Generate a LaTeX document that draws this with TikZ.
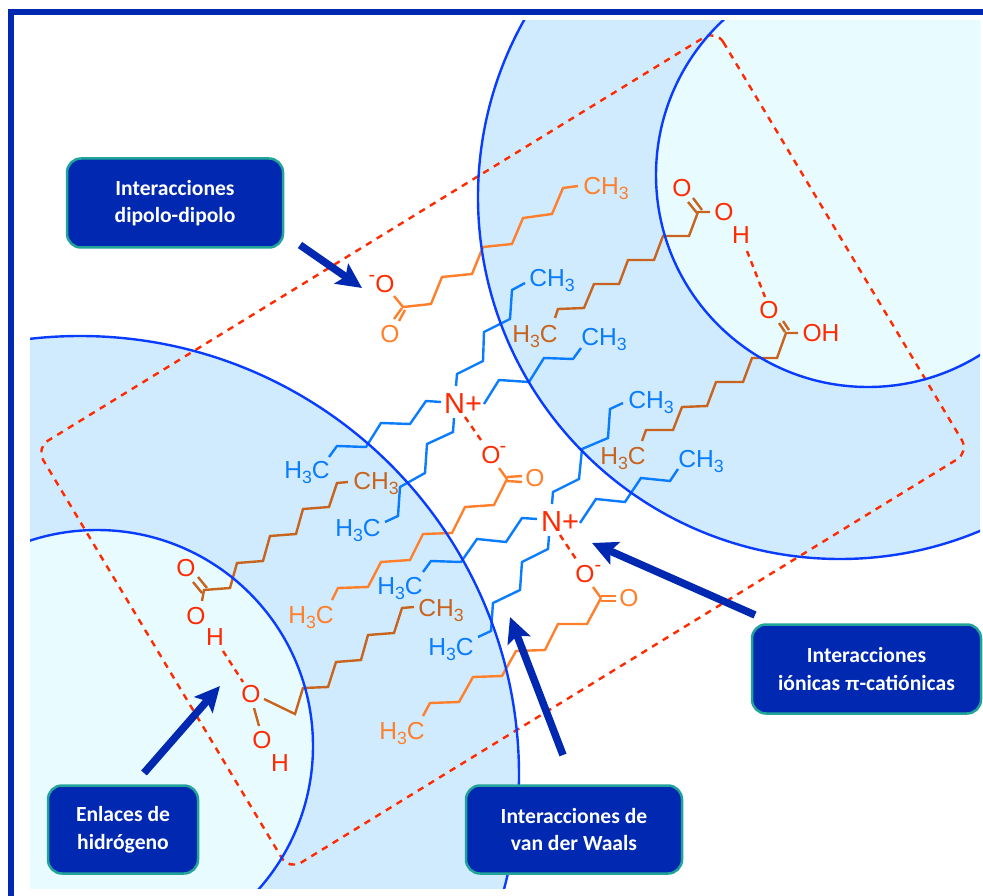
\documentclass[tikz,border=0pt]{standalone}
\usepackage{fontspec}
\usepackage{graphicx}
\setmainfont{Liberation Sans}
\newfontfamily\boxfont[BoldFont={Carlito Bold}]{Carlito}
\usetikzlibrary{arrows.meta}
\definecolor{navy}{HTML}{0028B0}
\definecolor{teal2}{HTML}{22A39A}
\definecolor{ringblue}{HTML}{0A3CFF}
\definecolor{fillmid}{HTML}{D0EBFE}
\definecolor{fillin}{HTML}{E8FBFF}
\definecolor{chblue}{HTML}{0A7CFF}
\definecolor{chorange}{HTML}{FF7F2A}
\definecolor{chdark}{HTML}{C8641E}
\definecolor{chred}{HTML}{FF2A00}
\newcommand\sbs{\raisebox{-.2em}{\scalebox{.72}{3}}}
\newcommand\CHt{CH\sbs}
\newcommand\HtC{H\sbs C}
\newcommand\piup{{\fontspec{Liberation Sans}\bfseries\fontsize{19}{27.5}\selectfont π}}
\tikzset{
  mol/.style={inner sep=0pt,outer sep=0pt,anchor=center,text height=17.5pt,text depth=0pt,font=\fontsize{24.6}{24.6}\selectfont},
  molblue/.style={mol,text=chblue},
  molorange/.style={mol,text=chorange},
  moldark/.style={mol,text=chdark},
  molred/.style={mol,text=chred},
  chargeN/.style={molred,text height=21pt,font=\fontsize{29}{29}\selectfont},
  minus/.style={inner sep=0pt,text=chred,font=\fontsize{20}{20}\selectfont},
  bondblue/.style={draw=chblue,line width=2.4pt},
  bondorange/.style={draw=chorange,line width=2.4pt},
  bonddark/.style={draw=chdark,line width=2.4pt},
  hbond/.style={draw=chred,line width=2.4pt,dash pattern=on 6.5pt off 6pt},
  ring/.style={draw=ringblue,line width=2.4pt},
  callout/.style={draw=teal2,fill=navy,line width=2.5pt,rounded corners=14pt,text=white,align=center,
     inner sep=0pt,font=\boxfont\bfseries\fontsize{21.6}{27.5}\selectfont},
  pointer/.style={draw=navy,line width=7.5pt,-{Stealth[length=25pt,width=24pt,inset=5pt,fill=navy]}},
}
\begin{document}
\begin{tikzpicture}[x=1pt,y=-1pt]
\useasboundingbox (0,0) rectangle (983,896);
\fill[white] (0,0) rectangle (983,896);
% frame
\fill[navy] (8,9) rectangle (983,15);
\fill[navy] (8,9) rectangle (14,896);
% filled circles
\begin{scope}
  \clip (30,21) rectangle (980,888);
  \fill[fillmid] (840,197) circle[radius=362];
  \fill[fillin] (868,175) circle[radius=212];
  \fill[fillmid] (80,775) circle[radius=439];
  \fill[fillin] (97,746) circle[radius=216];
\end{scope}
% dashed rectangle
\draw[hbond,rounded corners=14pt] (716,30) -- (969,452) -- (289,870) -- (36,448) -- cycle;
% upper N+ chains
\draw[bondblue] (456,386) -- (457,374) -- (483,361) -- (484,332) -- (510,319) -- (512,290) -- (525,283);
\draw[bondblue] (484,404) -- (499,380) -- (529,382) -- (544,358) -- (573,359) -- (581,348);
\draw[bondblue] (441,402) -- (426,401) -- (410,424) -- (381,423) -- (366,447) -- (337,446) -- (329,457);
\draw[bondblue] (454,418) -- (453,432) -- (427,444) -- (425,473) -- (400,487) -- (398,516) -- (385,522);
% lower N+ chains
\draw[bondblue] (552,504) -- (553,492) -- (579,479) -- (582,449) -- (608,438) -- (610,409) -- (623,403);
\draw[bondblue] (580,523) -- (596,499) -- (625,502) -- (641,478) -- (670,481) -- (678,469);
\draw[bondblue] (537,519) -- (522,518) -- (506,542) -- (477,539) -- (461,562) -- (431,561) -- (423,572);
\draw[bondblue] (549,536) -- (548,549) -- (522,562) -- (520,590) -- (493,603) -- (491,631) -- (478,637);
% orange chains
\draw[bondorange] (578,186) -- (563,188) -- (552,214) -- (523,218) -- (512,244) -- (483,247) -- (472,274) -- (442,277) -- (431,304) -- (403,307) -- (394,296);
\draw[bondorange] (402,308) -- (394,319) (405,310) -- (399,321);
\draw[bondorange] (507,479) -- (494,505) -- (465,507) -- (452,533) -- (423,534) -- (410,560) -- (381,562) -- (368,587) -- (338,588) -- (332,600);
\draw[bondorange] (499,468) -- (507,479);
\draw[bondorange] (507,477) -- (522,476) (507,481) -- (522,482);
\draw[bondorange] (601,598) -- (587,624) -- (558,624) -- (545,650) -- (516,651) -- (502,676) -- (473,677) -- (459,702) -- (430,703) -- (423,716);
\draw[bondorange] (593,587) -- (601,598);
\draw[bondorange] (601,596) -- (616,596) (601,601) -- (616,601);
% dark chains
\draw[bonddark] (555,318) -- (558,309) -- (584,308) -- (594,284) -- (619,284) -- (628,260) -- (654,260) -- (663,236) -- (689,236) -- (698,212) -- (710,212);
\draw[bonddark] (693,198) -- (702,210) (688,202) -- (697,213);
\draw[bonddark] (642,441) -- (646,430) -- (673,430) -- (682,407) -- (707,406) -- (716,382) -- (743,382) -- (752,358) -- (777,358) -- (786,333) -- (798,333);
\draw[bonddark] (779,323) -- (785,332) (783,321) -- (789,330);
\draw[bonddark] (348,482) -- (337,483) -- (329,507) -- (303,509) -- (296,534) -- (270,536) -- (263,561) -- (237,563) -- (230,588) -- (204,590) -- (202,601);
\draw[bonddark] (198,577) -- (207,588) (193,582) -- (202,593);
\draw[bonddark] (264,699) -- (295,714) -- (303,688) -- (328,687) -- (336,662) -- (361,660) -- (368,635) -- (394,633) -- (402,608) -- (414,607);
\draw[bonddark] (254,708) -- (259,726);
% hydrogen and ionic bonds
\draw[hbond,dash pattern=on 6pt off 5pt] (465,417) -- (483,443);
\draw[hbond,dash pattern=on 6pt off 5pt] (560,535) -- (578,562);
\draw[hbond,dash pattern=on 6pt off 5pt] (747,251) -- (765,297);
\draw[hbond,dash pattern=on 6pt off 5pt] (223,651) -- (243,682);
% rings
\begin{scope}
  \clip (30,21) rectangle (980,888);
  \draw[ring] (840,197) circle[radius=362];
  \draw[ring] (868,175) circle[radius=212];
  \draw[ring] (80,775) circle[radius=439];
  \draw[ring] (97,746) circle[radius=216];
\end{scope}
% blue labels
\node[molblue] (c1) at (552,278) {\CHt};
\node[molblue] (c2) at (604,337) {\CHt};
\node[molblue] (c3) at (651,400) {\CHt};
\node[molblue] (c4) at (701,459) {\CHt};
\node[molblue] (c5) at (307,470) {\HtC};
\node[molblue] (c6) at (358,528) {\HtC};
\node[molblue] (c7) at (400,586) {\HtC};
\node[molblue] (c8) at (451,647) {\HtC};
% orange labels
\node[molorange] (c9) at (606,186) {\CHt};
\node[molorange] (c10) at (311,615) {\HtC};
\node[molorange] (c11) at (402,731) {\HtC};
\node[molorange] (o1) at (390,334) {O};
\node[molorange] (o2) at (535,478) {O};
\node[molorange] (o3) at (629,598) {O};
% dark labels
\node[moldark] (c12) at (535,334) {\HtC};
\node[moldark] (c13) at (623,456) {\HtC};
\node[moldark] (c14) at (376,481) {\CHt};
\node[moldark] (c15) at (441,608) {\CHt};
% red labels
\node[chargeN] (n1) at (463,403) {N+};
\node[chargeN] (n2) at (560,521) {N+};
\node[molred] (o4) at (385,284) {O};
\node[minus] (m1) at (372,278) {-};
\node[molred] (o5) at (491,455) {O};
\node[minus] (m2) at (503,449) {-};
\node[molred] (o6) at (585,574) {O};
\node[minus] (m3) at (598,568) {-};
\node[molred] (o7) at (682,188) {O};
\node[molred] (o8) at (724,212) {O};
\node[molred] (h1) at (741,235) {H};
\node[molred] (o9) at (769,310) {O};
\node[molred] (oh) at (821,333) {OH};
\node[molred] (o10) at (186,568) {O};
\node[molred] (o11) at (196,616) {O};
\node[molred] (h2) at (215,637) {H};
\node[molred] (o12) at (251,694) {O};
\node[molred] (o13) at (262,740) {O};
\node[molred] (h3) at (280,763) {H};
% callouts
\node[callout,minimum width=216pt,minimum height=89pt] (dip) at (175,203) {Interacciones\\dipolo-dipolo};
\node[callout,minimum width=229pt,minimum height=89pt] (ion) at (866.5,669) {Interacciones\\iónicas \piup-catiónicas};
\node[callout,minimum width=216pt,minimum height=88pt] (vdw) at (574,829.5) {Interacciones de\\van der Waals};
\node[callout,minimum width=150pt,minimum height=88pt] (enl) at (123,829.5) {Enlaces de\\hidrógeno};
% pointers
\coordinate (p1a) at (300,245); \coordinate (p1b) at (362,288);
\coordinate (p2a) at (755,615); \coordinate (p2b) at (592,543);
\coordinate (p3a) at (563,755); \coordinate (p3b) at (510,617);
\coordinate (p4a) at (144,773); \coordinate (p4b) at (220,686);
\draw[pointer] (p1a) -- (p1b);
\draw[pointer] (p2a) -- (p2b);
\draw[pointer] (p3a) -- (p3b);
\draw[pointer] (p4a) -- (p4b);
\end{tikzpicture}
\end{document}
